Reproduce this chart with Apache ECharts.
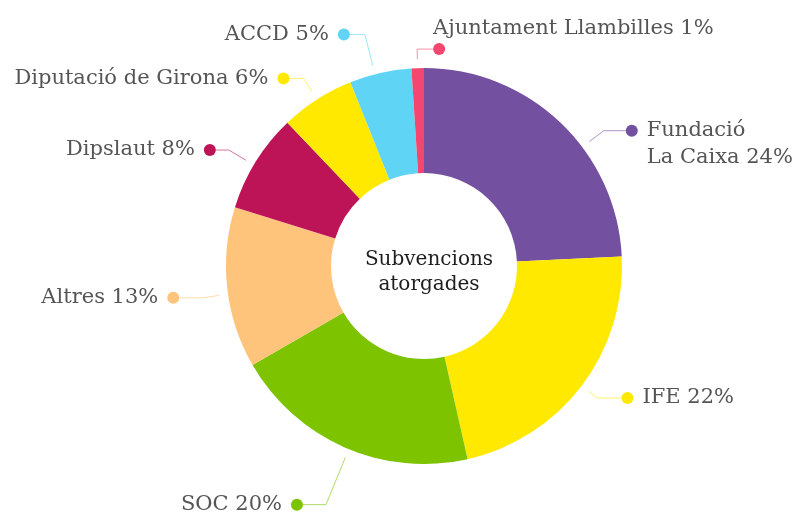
<!DOCTYPE html>
<html>
<head>
<meta charset="utf-8">
<script src="https://cdn.jsdelivr.net/npm/echarts@6/dist/echarts.min.js"></script>
<style>
  html, body { margin: 0; padding: 0; background: #fff; }
  #chart { width: 799px; height: 519px; }
</style>
</head>
<body>
<div id="chart"></div>
<script>
// dades
const names = ['Fundació\nLa Caixa', 'IFE', 'SOC', 'Altres', 'Dipslaut', 'Diputació de Girona', 'ACCD', 'Ajuntament Llambilles']
const values = [24, 22, 20, 13, 8, 6, 5, 1]
const colors = ['#7450a1', '#ffe900', '#7dc300', '#ffc47c', '#bd1457', '#ffe900', '#5fd4f4', '#f3476f']

// geometria
const CX = 424, CY = 266, R_IN = 93, R_OUT = 198
const rightSide = [true, true, false, false, false, false, false, true]
// desplaçament angular, radi del colze i longitud horitzontal de cada línia
const lineShift = [9.4, 0, -1.3, -1.8, -1.1, 0, -1.6, 0]
const lineR1 = [225, 218, 258, 224, 227, 223, 239, 217]
const lineLen2 = [22, 24, 23, 23, 13, 14, 15, 16]
const DOT = 12

const total = values.reduce((a, b) => a + b, 0)
let acc = 0
const midAngles = values.map(v => {
  const m = (acc + v / 2) / total * 360
  acc += v
  return m
})

const textStyle = { fontFamily: 'DejaVu Serif', fontSize: 21, color: '#555', lineHeight: 27 }

function polar(angle, r) {
  const a = angle * Math.PI / 180
  return [CX + r * Math.sin(a), CY - r * Math.cos(a)]
}

const data = names.map((name, i) => {
  const lines = name.split('\n')
  const pct = ' ' + values[i] + '%'
  let fmt
  if (i === names.length - 1) {
    fmt = '{ta|' + name + pct + '}\n{dot|}'
  } else if (rightSide[i]) {
    fmt = lines.map((l, k) => (k === 0 ? '{dot|}{gap|}' : '{sp|}') + '{t|' + l + (k === lines.length - 1 ? pct : '') + '}').join('\n')
  } else {
    fmt = '{t|' + name + pct + '}{gap|}{dot|}'
  }
  return {
    name,
    value: values[i],
    itemStyle: { color: colors[i] },
    labelLine: { lineStyle: { color: colors[i], opacity: 0.6, width: 1 } },
    label: {
      formatter: fmt,
      rich: {
        t: textStyle,
        ta: Object.assign({}, textStyle, { lineHeight: 30 }),
        dot: { width: DOT, height: DOT, lineHeight: DOT, borderRadius: DOT / 2, backgroundColor: colors[i] },
        gap: { width: 9 },
        sp: { width: DOT + 9 }
      }
    }
  }
})

const myChart = echarts.init(document.getElementById('chart'))
const option = {
  animation: false,
  title: {
    text: 'Subvencions\natorgades',
    left: CX,
    top: 267,
    textAlign: 'center',
    textVerticalAlign: 'middle',
    textStyle: { fontFamily: 'DejaVu Serif', fontSize: 20, fontWeight: 'normal', color: '#1e1e1e', lineHeight: 25 }
  },
  series: [
    {
      type: 'pie',
      center: [CX, CY],
      radius: [R_IN, R_OUT],
      startAngle: 90,
      clockwise: true,
      avoidLabelOverlap: false,
      label: { show: true },
      labelLine: { show: true, length: 15, length2: 15 },
      labelLayout(params) {
        const i = params.dataIndex
        const ang = midAngles[i] + lineShift[i]
        const p0 = polar(ang, R_OUT + 9)
        const p1 = polar(ang, lineR1[i])
        const dir = rightSide[i] ? 1 : -1
        const p2 = [p1[0] + dir * lineLen2[i], p1[1]]
        const layout = {
          x: p2[0],
          y: p2[1],
          align: rightSide[i] ? 'left' : 'right',
          verticalAlign: 'middle',
          labelLinePoints: [p0, p1, p2]
        }
        if (i === 0) {
          layout.verticalAlign = 'top'
          layout.y = p2[1] - textStyle.lineHeight / 2
        }
        if (i === names.length - 1) {
          layout.verticalAlign = 'bottom'
          layout.y = p2[1] + DOT / 2
        }
        return layout
      },
      data
    }
  ]
}
myChart.setOption(option)
</script>
</body>
</html>
